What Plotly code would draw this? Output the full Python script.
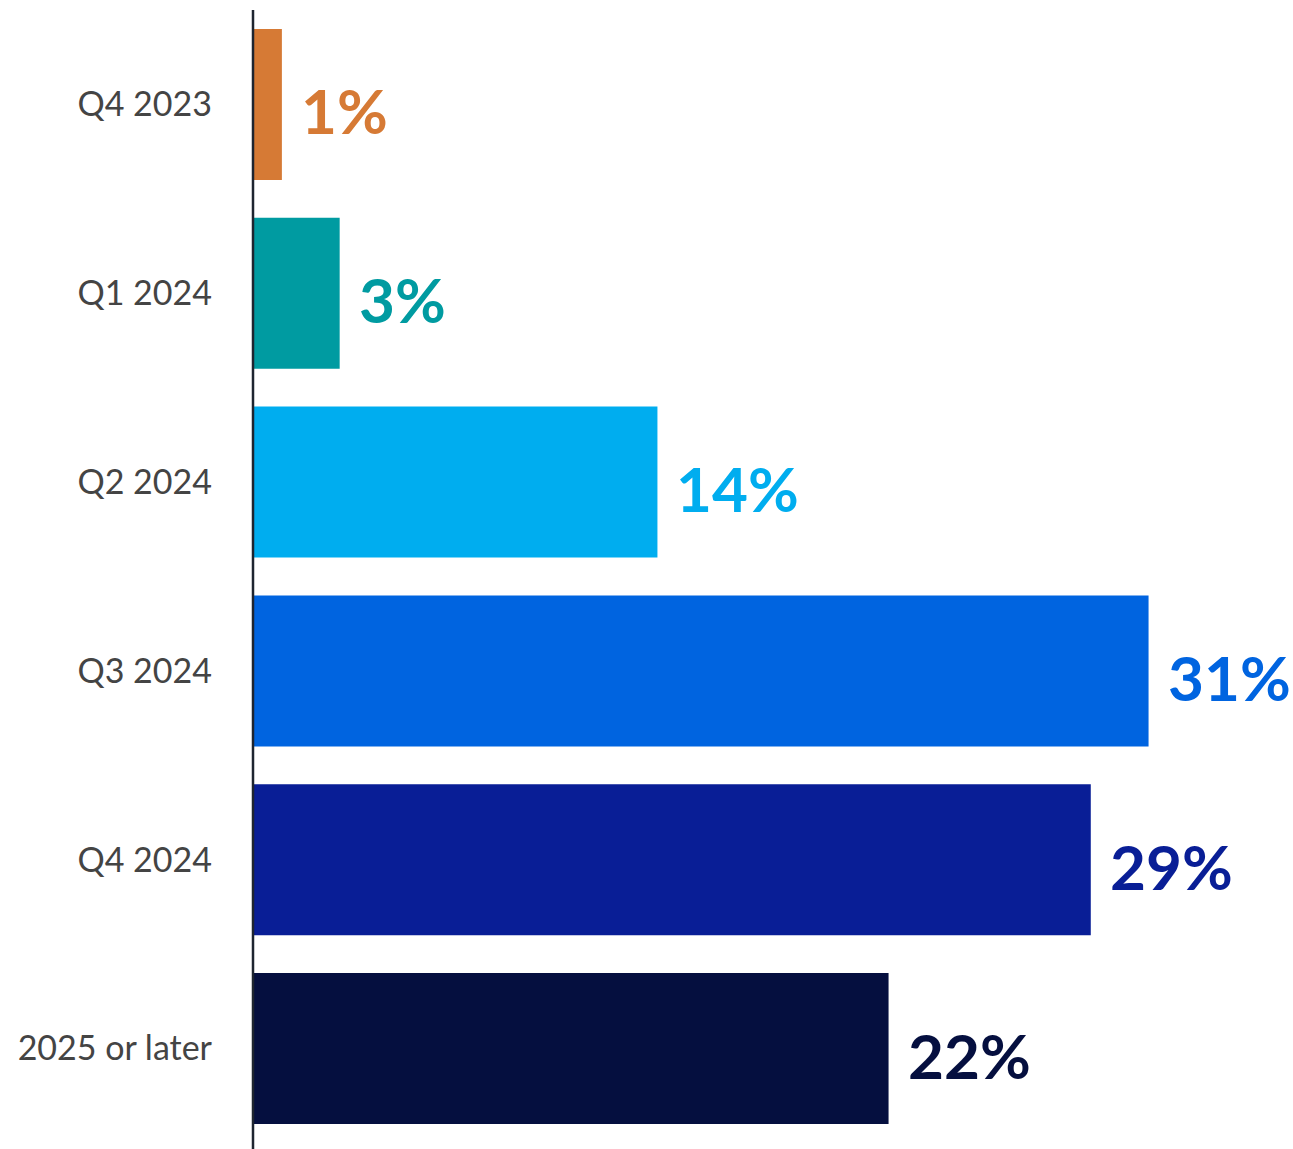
import plotly.graph_objects as go

# Expected timing categories and share of respondents (%)
categories = ["Q4 2023", "Q1 2024", "Q2 2024", "Q3 2024", "Q4 2024", "2025 or later"]
shares = [1, 3, 14, 31, 29, 22]
bar_colors = ["#D67A35", "#009BA1", "#00ADEF", "#0064E0", "#091E96", "#050F3F"]

TOP, BOTTOM, HEIGHT = 10, 6, 1149

fig = go.Figure(
    go.Bar(
        x=shares,
        y=categories,
        orientation="h",
        marker=dict(color=bar_colors, line=dict(width=0)),
        hoverinfo="skip",
    )
)

# Bold value labels to the right of each bar, coloured like the bar
for cat, val, col in zip(categories, shares, bar_colors):
    fig.add_annotation(
        x=val,
        y=cat,
        text=f"{val}%",
        xanchor="left",
        yanchor="middle",
        xshift=17,
        yshift=-6,
        showarrow=False,
        font=dict(family="Lato", size=62, color=col, weight=700),
    )

# Vertical baseline running to the bottom edge of the page
plot_h = HEIGHT - TOP - BOTTOM
fig.add_shape(
    type="line",
    xref="paper", yref="paper",
    x0=0, x1=0,
    y0=-BOTTOM / plot_h, y1=1,
    line=dict(color="#1E2530", width=2.5),
    layer="above",
)

fig.update_layout(
    width=1293,
    height=HEIGHT,
    margin=dict(l=253, r=0, t=TOP, b=BOTTOM),
    paper_bgcolor="white",
    plot_bgcolor="white",
    bargap=0.2,
    showlegend=False,
    xaxis=dict(
        range=[0, 36],
        visible=False,
        showgrid=False,
        zeroline=False,
    ),
    yaxis=dict(
        categoryorder="array",
        categoryarray=categories,
        autorange="reversed",
        showgrid=False,
        zeroline=False,
        showline=False,
        ticks="",
        ticklabelstandoff=40,
        tickfont=dict(family="Lato", size=34, color="#444444"),
    ),
)

fig.write_html("out.html")
